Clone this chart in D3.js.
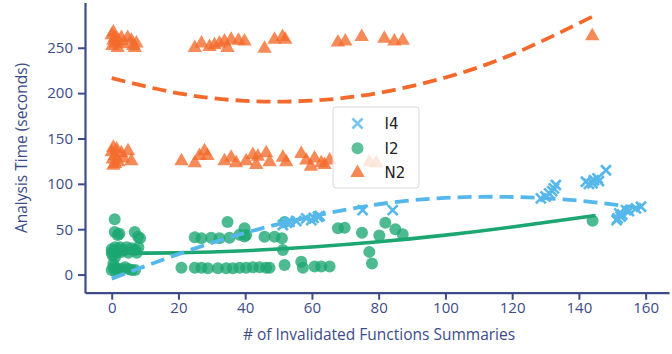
<!DOCTYPE html>
<html>
<head>
<meta charset="utf-8">
<script src="https://cdn.jsdelivr.net/npm/d3@7"></script>
<style>
  html, body { margin: 0; padding: 0; background: #fff; }
  svg { display: block; }
</style>
</head>
<body>
<div id="chart"></div>
<script>
// Scatter of analysis time vs invalidated summaries, with quadratic fits per config.
const xTicks = [0, 20, 40, 60, 80, 100, 120, 140, 160];
const yTicks = [0, 50, 100, 150, 200, 250];
const seriesNames = ['I4', 'I2', 'N2'];

// [x, y] points
const i4Points = [
  [51.3,54.6],[52.5,57],[53.3,58],[55.3,59],[58.3,62],[59.8,60],[60.5,62.5],[61.8,63.7],[62.3,64.5],
  [75.2,71],[84.2,71],
  [128.6,84],[130,86],[131.1,89.5],[132,92],[132.5,95],[133.1,98.7],
  [142.1,102.3],[143,100],[144.1,100.6],[144.5,104],[145.6,106],[146,103],[148.1,115],
  [151.3,60],[151.6,62],[152.1,67.5],[152.5,64],[153,66],[154.1,71],[155,70],[157.1,73],[158.6,74.7]
];
const i2Points = [
  [0.9,61],[0.9,47],[1.8,43.5],[2.3,45],[6.9,47],[7.9,41.7],[8.5,40],
  [0,24],[0,28],[0.5,26],[1,30],[1.5,24],[2,28],[2.5,30],[3,25],[3.5,27],[4.5,30],[5,24],
  [6,29],[7,27],[7.5,24],[8,30],[0.3,21],[1,19],
  [0,5],[0.5,8],[1,4],[1.5,7],[2,5],[3,6],[4,8],[5,6],[6,5],[7,5],[0.5,12],
  [20.9,7.5],[24.9,7.5],[26.9,7.5],[28.8,7],[31.8,7],[34.3,7],[36.3,7],[38.3,7.5],[40.3,7.5],
  [42.3,8],[44.3,8],[46.3,7.5],[47.3,7.5],
  [24.9,41],[26.9,40],[29.8,40.5],[32.3,40],[35.3,40.5],[38.3,44],[39.8,42],
  [34.7,58],[39.8,51],[40.3,43.5],[45.8,41.7],[48.8,41.7],[51,40],[51.3,27],[51.8,58],
  [51.8,10.5],[56.8,14],[57.3,7.5],[60.8,9],[62.8,9],[65.3,9],
  [67.8,51],[69.8,51.5],[75,46],[77.2,25],[78,12.3],[80.2,43],[82,57],[85,50],[87.2,44.5],
  [144.1,59.3]
];
const n2Points = [
  [0,264],[0.2,252],[0.5,258],[1,261],[1.2,255],[1.8,250],[2.9,261],[2,257],[3.5,254],
  [4.8,261],[5.9,258],[6.5,252],[7.4,255],[6.9,250],[0.5,267],
  [24.9,250],[26.9,255],[29.3,251],[30.8,253],[32.3,255],[33.8,257],[35.8,259],[34.7,250],
  [39.8,257],[38,258],
  [45.8,249],[48.8,259],[51.2,262],[52,259],[67.8,256],[70,257],[74.9,262],[81.7,260],
  [84.7,257],[87.2,258],[144,263],
  [0,135],[0.3,127],[0.5,120],[1,131],[1.5,138],[2,124],[2.9,134],[3.5,128],[4.9,136],
  [5.9,125],[1,122],[0.5,140],
  [20.9,125],[24.9,123],[26.3,131],[27.8,136],[28.7,131],[33.8,125],[35.8,129],[37.3,123],
  [40.3,125],[42.3,132],[43.3,121],[43.8,130],[46.3,134],[47.3,124],[51.3,129],[52.3,124],
  [56.8,133],[58.3,126],[60.8,128],[59.7,119],[62.8,123],[63.8,121],[65.3,126],
  [77.2,124],[79.3,123]
];

// fitted curves
const i4Fit = [[0,-4.5],[20,22.5],[40,46],[60,64],[80,77.5],[100,84.5],[120,85.5],[140,81.5],[159,73]];
const i2Fit = [[0,23.4],[20,24],[40,26.3],[60,30.4],[80,36.1],[100,43.5],[120,52.5],[145,65.2]];
const n2Fit = [[0,216.6],[20,199.8],[40,191.5],[60,191.7],[80,200.2],[100,217.2],[120,242.6],[144,284.2]];

const W = 672, H = 354;
const AXIS = '#3c4c89';
const C_BLUE = '#56b8ea', C_GREEN = '#1ba672', C_ORANGE = '#f36a2c';
const FONT = "'Open Sans', sans-serif";

const svg = d3.select('#chart').append('svg').attr('width', W).attr('height', H);

const x = d3.scaleLinear().domain([-8, 167]).range([85, 669]);
const y = d3.scaleLinear().domain([-20, 300]).range([292.7, 2.4]);

// axes
const gx = svg.append('g').attr('transform', 'translate(0,292.7)')
  .call(d3.axisBottom(x).tickValues(xTicks).tickSize(7).tickSizeOuter(0).tickPadding(3));
const gy = svg.append('g').attr('transform', 'translate(85,0)')
  .call(d3.axisLeft(y).tickValues(yTicks).tickSize(7).tickSizeOuter(0).tickPadding(5));
[gx, gy].forEach(g => {
  g.select('.domain').attr('stroke', AXIS).attr('stroke-width', 2.2);
  g.selectAll('.tick line').attr('stroke', AXIS).attr('stroke-width', 2);
  g.selectAll('.tick text').attr('fill', AXIS).style('font-size', '15px').style('font-family', FONT);
});

svg.append('text').attr('x', 379).attr('y', 340).attr('text-anchor', 'middle')
  .style('font-family', FONT).style('font-size', '15.5px').attr('fill', AXIS)
  .text('# of Invalidated Functions Summaries');
svg.append('text').attr('transform', 'translate(27,148) rotate(-90)').attr('text-anchor', 'middle')
  .style('font-family', FONT).style('font-size', '15.5px').attr('fill', AXIS)
  .text('Analysis Time (seconds)');

// markers
const tri = d3.symbol().type(d3.symbolTriangle).size(90);
const plot = svg.append('g');

plot.selectAll('.n2').data(n2Points).enter().append('path')
  .attr('d', tri).attr('transform', d => `translate(${x(d[0])},${y(d[1])})`)
  .attr('fill', C_ORANGE).attr('fill-opacity', 0.78);

plot.selectAll('.i2').data(i2Points).enter().append('circle')
  .attr('cx', d => x(d[0])).attr('cy', d => y(d[1])).attr('r', 6)
  .attr('fill', C_GREEN).attr('fill-opacity', 0.78);

plot.selectAll('.i4').data(i4Points).enter().append('path')
  .attr('d', 'M-5,-5L5,5M-5,5L5,-5')
  .attr('transform', d => `translate(${x(d[0])},${y(d[1])})`)
  .attr('stroke', C_BLUE).attr('stroke-width', 2.6).attr('fill', 'none');

// fit lines
const line = d3.line().x(d => x(d[0])).y(d => y(d[1])).curve(d3.curveNatural);
plot.append('path').datum(n2Fit).attr('d', line).attr('fill', 'none')
  .attr('stroke', C_ORANGE).attr('stroke-width', 3.8).attr('stroke-dasharray', '14,7');
plot.append('path').datum(i2Fit).attr('d', line).attr('fill', 'none')
  .attr('stroke', C_GREEN).attr('stroke-width', 3.6);
plot.append('path').datum(i4Fit).attr('d', line).attr('fill', 'none')
  .attr('stroke', C_BLUE).attr('stroke-width', 3.8).attr('stroke-dasharray', '14,7');

// legend
const lg = svg.append('g').attr('transform', 'translate(333,107)');
lg.append('rect').attr('width', 86).attr('height', 81).attr('rx', 3)
  .attr('fill', '#fff').attr('fill-opacity', 0.8).attr('stroke', '#d8d8d8').attr('stroke-width', 1);
seriesNames.forEach((name, i) => {
  const row = lg.append('g').attr('transform', `translate(24.5,${16.5 + i * 24.7})`);
  if (name === 'I4') {
    row.append('path').attr('d', 'M-5,-5L5,5M-5,5L5,-5').attr('stroke', C_BLUE)
      .attr('stroke-opacity', 0.8).attr('stroke-width', 2.6);
  } else if (name === 'I2') {
    row.append('circle').attr('r', 6).attr('fill', C_GREEN).attr('fill-opacity', 0.7);
  } else {
    row.append('path').attr('d', tri).attr('fill', C_ORANGE).attr('fill-opacity', 0.8);
  }
  row.append('text').attr('x', 27).attr('y', 5.5)
    .style('font-family', "'DejaVu Sans', sans-serif").style('font-size', '15px').attr('fill', '#222')
    .text(name);
});
</script>
</body>
</html>
